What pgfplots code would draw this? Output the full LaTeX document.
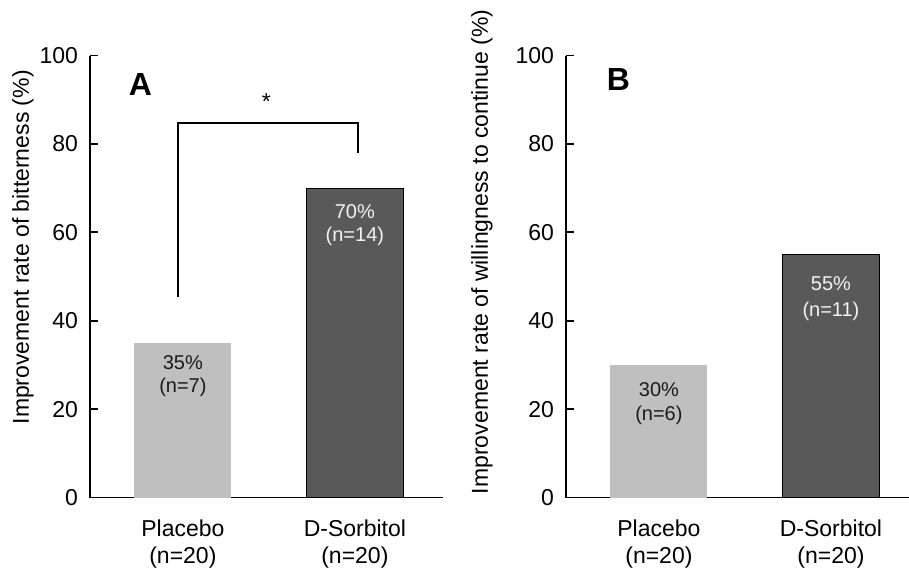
\documentclass[border=0pt]{standalone}
\usepackage{pgfplots}
\pgfplotsset{compat=1.18}
\usepackage{fontspec}
\setmainfont{Liberation Sans}
\definecolor{lightbar}{HTML}{BFBFBF}
\definecolor{darkbar}{HTML}{595959}
\definecolor{lighttxt}{HTML}{F2F2F2}
\definecolor{darktxt}{HTML}{1A1A1A}
\newcommand{\lblfont}{\fontsize{11.5}{13.5}\selectfont}
\newcommand{\inbar}{\fontsize{10}{12}\selectfont}
\pgfplotsset{
  panel/.style={
    scale only axis,
    height=221pt,
    axis lines=left,
    axis line style={-, line width=0.9pt, black},
    ymin=0, ymax=100,
    ytick={0,20,40,60,80,100},
    xmin=-0.54,
    xtick={0,1},
    xticklabels={{Placebo\\(n=20)},{D-Sorbitol\\(n=20)}},
    xticklabel style={align=center, font=\lblfont, yshift=-7.5pt},
    yticklabel style={font=\lblfont, xshift=-2.5pt},
    x tick style={draw=none},
    y tick style={black, line width=0.9pt},
    major tick length=4pt,
    tick align=inside,
    /pgf/number format/assume math mode=true,
    label style={font=\lblfont},
    clip=false,
  },
}
\begin{document}
\begin{tikzpicture}
\path[use as bounding box] (-45pt,-36.25pt) rectangle (409.5pt,248.75pt);
% Panel A
\begin{axis}[panel, at={(0pt,0pt)}, anchor=south west,
  width=176.3pt, xmax=1.51,
  ylabel={Improvement rate of bitterness (\%)},
  ylabel style={at={(axis description cs:0,0.566)}, anchor=center, yshift=33.5pt}]
\addplot[ybar, bar width=48.5pt, fill=lightbar, draw=none] coordinates {(0,35)};
\addplot[ybar, bar width=48.5pt, fill=darkbar, draw=black, line width=0.4pt] coordinates {(1,70)};
\addplot[black, line width=1pt, mark=none] coordinates {(-0.03,45.4) (-0.03,84.7) (1.016,84.7) (1.016,78.0)};
\node[font=\lblfont] at (axis cs:0.485,89.5) {*};
\node[font=\fontsize{16}{18}\selectfont\bfseries] at (axis cs:-0.247,93.5) {A};
\node[font=\inbar, text=darktxt] at (axis cs:0,30.5) {35\%};
\node[font=\inbar, text=darktxt] at (axis cs:0,24.9) {(n=7)};
\node[font=\inbar, text=lighttxt] at (axis cs:1,64.7) {70\%};
\node[font=\inbar, text=lighttxt] at (axis cs:1,59.0) {(n=14)};
\end{axis}
% Panel B
\begin{axis}[panel, at={(238pt,0pt)}, anchor=south west,
  width=172.9pt, xmax=1.47,
  ylabel={Improvement rate of willingness to continue (\%)},
  ylabel style={at={(axis description cs:0,0.556)}, anchor=center, yshift=42pt}]
\addplot[ybar, bar width=48.5pt, fill=lightbar, draw=none] coordinates {(0,30)};
\addplot[ybar, bar width=48.5pt, fill=darkbar, draw=black, line width=0.4pt] coordinates {(1,55)};
\node[font=\fontsize{16}{18}\selectfont\bfseries] at (axis cs:-0.235,94.6) {B};
\node[font=\inbar, text=darktxt] at (axis cs:0,24.5) {30\%};
\node[font=\inbar, text=darktxt] at (axis cs:0,18.7) {(n=6)};
\node[font=\inbar, text=lighttxt] at (axis cs:1,48.3) {55\%};
\node[font=\inbar, text=lighttxt] at (axis cs:1,42.2) {(n=11)};
\end{axis}
\end{tikzpicture}
\end{document}
